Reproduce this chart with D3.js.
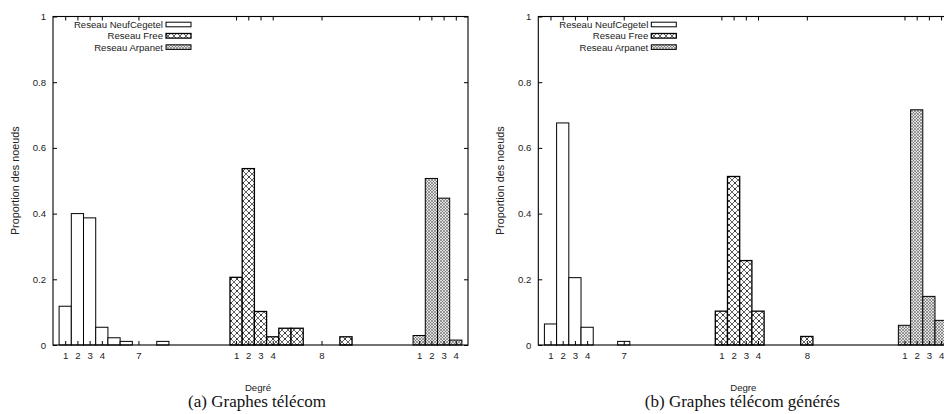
<!DOCTYPE html>
<html>
<head>
<meta charset="utf-8">
<script src="https://cdn.jsdelivr.net/npm/d3@7"></script>
<style>
  html, body { margin: 0; padding: 0; background: #fff; }
  svg { display: block; }
</style>
</head>
<body>
<svg id="chart" width="944" height="414"></svg>
<script>
// Degree distributions for three telecom networks, real (a) and generated (b)
const seriesNames = ["Reseau NeufCegetel", "Reseau Free", "Reseau Arpanet"];
// slot offset of each network group along the shared x axis
const groupOffsets = [0, 14, 29];

const realNeufDeg = [1, 2, 3, 4, 5, 6, 9];
const realNeufVal = [0.118, 0.400, 0.387, 0.054, 0.022, 0.011, 0.011];
const realFreeDeg = [1, 2, 3, 4, 5, 6, 10];
const realFreeVal = [0.206, 0.537, 0.102, 0.025, 0.051, 0.051, 0.025];
const realArpaDeg = [1, 2, 3, 4];
const realArpaVal = [0.029, 0.507, 0.447, 0.015];

const genNeufDeg = [1, 2, 3, 4, 7];
const genNeufVal = [0.064, 0.676, 0.205, 0.054, 0.011];
const genFreeDeg = [1, 2, 3, 4, 8];
const genFreeVal = [0.103, 0.513, 0.257, 0.103, 0.026];
const genArpaDeg = [1, 2, 3, 4];
const genArpaVal = [0.060, 0.716, 0.148, 0.075];

// labelled x ticks per group
const neufTicks = [1, 2, 3, 4, 7];
const freeTicks = [1, 2, 3, 4, 8];
const arpaTicks = [1, 2, 3, 4];
const yTicks = [0, 0.2, 0.4, 0.6, 0.8, 1];

const captions = ["(a) Graphes télécom", "(b) Graphes télécom générés"];
const xTitles = ["Degré", "Degre"];
const yTitle = "Proportion des noeuds";

const svg = d3.select("#chart");
const defs = svg.append("defs");

// Free: open cross-hatch with dots
const pFree = defs.append("pattern").attr("id", "pat-free")
  .attr("patternUnits", "userSpaceOnUse").attr("width", 6).attr("height", 6);
pFree.append("rect").attr("width", 6).attr("height", 6).attr("fill", "#fff");
pFree.append("path").attr("d", "M0,0L6,6M6,0L0,6")
  .attr("stroke", "#222").attr("stroke-width", 0.7).attr("fill", "none");
pFree.append("rect").attr("x", 2.4).attr("y", 2.4).attr("width", 1.2).attr("height", 1.2).attr("fill", "#000");

// Arpanet: dense cross-hatch
const pArpa = defs.append("pattern").attr("id", "pat-arpa")
  .attr("patternUnits", "userSpaceOnUse").attr("width", 3).attr("height", 3);
pArpa.append("rect").attr("width", 3).attr("height", 3).attr("fill", "#e4e4e4");
pArpa.append("path").attr("d", "M0,0L3,3M3,0L0,3")
  .attr("stroke", "#555").attr("stroke-width", 0.55).attr("fill", "none");

const fills = ["#fff", "url(#pat-free)", "url(#pat-arpa)"];
const strokes = [1, 1.3, 1];

const font = "'Liberation Sans', Arial, Helvetica, sans-serif";
const fs = 9.6;

function panel(left, caption, xTitle, groups) {
  const top = 16.5, bottom = 345, width = 415;
  const g = svg.append("g");
  const x = d3.scaleLinear().domain([0, 34]).range([left, left + width]);
  const y = d3.scaleLinear().domain([0, 1]).range([bottom, top]);
  const bw = x(1) - x(0);

  groups.forEach((grp, i) => {
    const data = grp.deg.map((d, k) => ({ slot: d + groupOffsets[i], v: grp.val[k] }));
    g.append("g").selectAll("rect").data(data).join("rect")
      .attr("x", d => x(d.slot) - bw / 2)
      .attr("y", d => y(d.v))
      .attr("width", bw)
      .attr("height", d => y(0) - y(d.v))
      .attr("fill", fills[i])
      .attr("stroke", "#000")
      .attr("stroke-width", strokes[i]);
  });

  // x ticks (with labels at the bottom, mirrored at the top)
  const tickSlots = [];
  [neufTicks, freeTicks, arpaTicks].forEach((ts, i) =>
    ts.forEach(t => tickSlots.push({ slot: t + groupOffsets[i], label: t })));

  const xAxis = d3.axisBottom(x).tickValues(tickSlots.map(d => d.slot))
    .tickFormat((d, i) => tickSlots[i].label).tickSize(-4).tickPadding(7);
  const gx = g.append("g").attr("transform", `translate(0,${bottom})`).call(xAxis);
  const xTop = d3.axisTop(x).tickValues(tickSlots.map(d => d.slot))
    .tickFormat("").tickSize(-4);
  const gxt = g.append("g").attr("transform", `translate(0,${top})`).call(xTop);

  const yAxis = d3.axisLeft(y).tickValues(yTicks).tickFormat(d3.format("~g"))
    .tickSize(-4).tickPadding(7);
  const gy = g.append("g").attr("transform", `translate(${left},0)`).call(yAxis);
  const yRight = d3.axisRight(y).tickValues(yTicks).tickFormat("").tickSize(-4);
  const gyr = g.append("g").attr("transform", `translate(${left + width},0)`).call(yRight);

  [gx, gxt, gy, gyr].forEach(a => {
    a.select(".domain").remove();
    a.selectAll(".tick line").attr("stroke", "#000").attr("stroke-width", 1);
    a.selectAll("text").attr("font-family", font).attr("font-size", fs).attr("fill", "#222");
  });

  // plot frame
  g.append("rect").attr("x", left).attr("y", top)
    .attr("width", width).attr("height", bottom - top)
    .attr("fill", "none").attr("stroke", "#000").attr("stroke-width", 1.1);

  // legend
  const lx = left + 110;
  seriesNames.forEach((name, i) => {
    const ly = 24.5 + i * 11.3;
    g.append("text").attr("x", lx).attr("y", ly + 3.4)
      .attr("text-anchor", "end").attr("font-family", font).attr("font-size", fs)
      .attr("fill", "#222").text(name);
    g.append("rect").attr("x", lx + 3).attr("y", ly - 2.3)
      .attr("width", 25).attr("height", 4.6)
      .attr("fill", fills[i]).attr("stroke", "#000").attr("stroke-width", strokes[i]);
  });

  // axis titles
  g.append("text").attr("x", left + 205).attr("y", 391)
    .attr("text-anchor", "middle").attr("font-family", font).attr("font-size", fs)
    .attr("fill", "#222").text(xTitle);
  g.append("text")
    .attr("transform", `translate(${left - 34},${(top + bottom) / 2}) rotate(-90)`)
    .attr("text-anchor", "middle").attr("font-family", font).attr("font-size", 10.8)
    .attr("fill", "#222").text(yTitle);

  // caption
  g.append("text").attr("x", left + 204).attr("y", 407)
    .attr("text-anchor", "middle").attr("font-family", "'Liberation Serif', 'Times New Roman', serif")
    .attr("font-size", 17).attr("fill", "#111").text(caption);
}

panel(53, captions[0], xTitles[0], [
  { deg: realNeufDeg, val: realNeufVal },
  { deg: realFreeDeg, val: realFreeVal },
  { deg: realArpaDeg, val: realArpaVal }
]);
panel(538.3, captions[1], xTitles[1], [
  { deg: genNeufDeg, val: genNeufVal },
  { deg: genFreeDeg, val: genFreeVal },
  { deg: genArpaDeg, val: genArpaVal }
]);
</script>
</body>
</html>
